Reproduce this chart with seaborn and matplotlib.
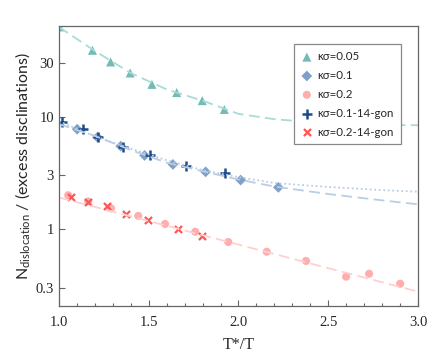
import matplotlib
matplotlib.use("Agg")
import matplotlib.pyplot as plt
import numpy as np
import pandas as pd
import seaborn as sns
from matplotlib.ticker import FixedLocator, MultipleLocator, NullLocator, FixedFormatter

sns.set_theme(style="white")
plt.rcParams["mathtext.fontset"] = "custom"
plt.rcParams["mathtext.rm"] = "Lato"

# simulation points
x_005 = [1.005, 1.187, 1.288, 1.397, 1.518, 1.656, 1.798, 1.921]
y_005 = [63.0, 39.0, 30.7, 24.5, 19.4, 16.4, 13.9, 11.6]

x_01 = [1.102, 1.215, 1.344, 1.477, 1.635, 1.817, 2.012, 2.222]
y_01 = [7.74, 6.57, 5.47, 4.52, 3.76, 3.23, 2.73, 2.35]

x_02 = [1.052, 1.163, 1.290, 1.442, 1.591, 1.759, 1.943, 2.157, 2.376, 2.599, 2.727, 2.900]
y_02 = [2.00, 1.76, 1.53, 1.31, 1.11, 0.946, 0.767, 0.628, 0.520, 0.377, 0.400, 0.326]

x_01_14 = [1.015, 1.132, 1.219, 1.357, 1.505, 1.706, 1.925]
y_01_14 = [9.06, 7.70, 6.57, 5.43, 4.52, 3.65, 3.13]

x_02_14 = [1.067, 1.165, 1.266, 1.375, 1.494, 1.661, 1.795]
y_02_14 = [1.94, 1.75, 1.59, 1.37, 1.195, 1.006, 0.872]

# fit curves
fit_x = [1.0, 1.2, 1.4, 1.6, 1.8, 2.0, 2.2, 2.5, 2.8, 3.0]
fit_005 = [63.0, 38.5, 24.5, 17.5, 13.9, 10.6, 9.5, 8.7, 8.45, 8.4]
fit_01 = [8.6, 6.75, 5.05, 3.9, 3.27, 2.76, 2.39, 2.05, 1.8, 1.66]
fit_01_14 = [9.1, 6.7, 5.2, 4.1, 3.35, 2.9, 2.57, 2.37, 2.22, 2.15]
fit_02_x = [1.0, 2.0, 3.0]
fit_02 = [1.91, 0.727, 0.277]

labels = ["κσ=0.05", "κσ=0.1", "κσ=0.2", "κσ=0.1-14-gon", "κσ=0.2-14-gon"]
yticks = [0.3, 1, 3, 10, 30]
ytick_labels = ["0.3", "1", "3", "10", "30"]

f, ax = plt.subplots(figsize=(4.36, 3.63), dpi=100)
f.subplots_adjust(left=0.135, right=0.959, top=0.928, bottom=0.156)

sns.lineplot(x=fit_x, y=fit_005, ax=ax, color="#a9dbd7", lw=1.3, linestyle=(0, (6, 3)))
sns.lineplot(x=fit_x, y=fit_01, ax=ax, color="#b9cde5", lw=1.3, linestyle=(0, (6, 3)))
sns.lineplot(x=fit_x, y=fit_01_14, ax=ax, color="#b9cde5", lw=1.3, linestyle=(0, (1, 1.5)))
sns.lineplot(x=fit_02_x, y=fit_02, ax=ax, color="#ffd0d0", lw=1.3, linestyle=(0, (6, 3)))

sns.scatterplot(x=x_005, y=y_005, ax=ax, marker="^", s=42, color="#5aafaa", alpha=0.85,
                edgecolor="none", label=labels[0])
sns.scatterplot(x=x_01, y=y_01, ax=ax, marker="D", s=30, color="#5f88ba", alpha=0.8,
                edgecolor="none", label=labels[1])
sns.scatterplot(x=x_02, y=y_02, ax=ax, marker="o", s=34, color="#ff9a9a", alpha=0.8,
                edgecolor="none", label=labels[2])
sns.scatterplot(x=x_01_14, y=y_01_14, ax=ax, marker="+", s=48, color="#1d4c8c",
                linewidth=1.8, label=labels[3])
sns.scatterplot(x=x_02_14, y=y_02_14, ax=ax, marker="x", s=26, color="#ff5555",
                linewidth=1.6, label=labels[4])

ax.set_yscale("log")
ax.set_xlim(1.0, 3.0)
ax.set_ylim(0.205, 64)
ax.yaxis.set_major_locator(FixedLocator(yticks))
ax.yaxis.set_major_formatter(FixedFormatter(ytick_labels))
ax.yaxis.set_minor_locator(NullLocator())
ax.xaxis.set_major_locator(MultipleLocator(0.5))
ax.xaxis.set_minor_locator(MultipleLocator(0.1))

for s in ax.spines.values():
    s.set_color("#666666")
    s.set_linewidth(0.9)
ax.tick_params(which="both", direction="in", color="#666666", bottom=True, left=True)
ax.tick_params(which="major", length=4, width=0.8, labelsize=10.5)
ax.tick_params(axis="x", which="major", pad=7)
ax.tick_params(which="minor", length=2.5, width=0.8)
for t in ax.get_xticklabels() + ax.get_yticklabels():
    t.set_family("Liberation Serif")

ax.set_xlabel("T*/T", family="Liberation Serif", fontsize=11.5, labelpad=6)
ax.set_ylabel(r"N$_{\mathrm{dislocation}}$ / (excess disclinations)", family="Lato",
              fontsize=11.5, labelpad=2)

leg = ax.legend(loc="upper right", bbox_to_anchor=(0.967, 0.956), fancybox=False,
                framealpha=1, edgecolor="#888888", prop={"family": "Lato", "size": 8.3},
                handletextpad=0.35, labelspacing=0.68, borderpad=0.6, handlelength=1.1)
leg.get_frame().set_linewidth(0.9)

f.savefig("out.png", dpi=100)
